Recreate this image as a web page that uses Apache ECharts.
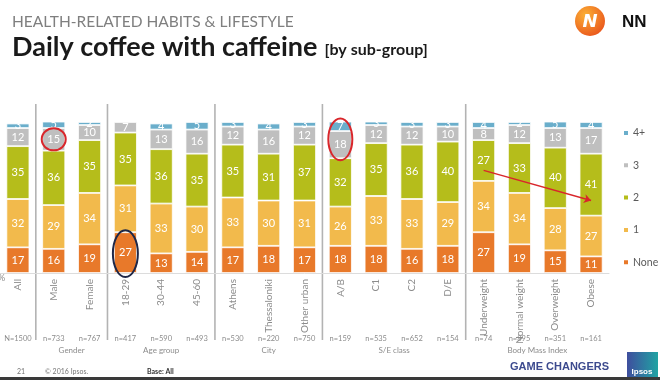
<!DOCTYPE html>
<html><head><meta charset="utf-8">
<script src="https://cdn.jsdelivr.net/npm/echarts@6/dist/echarts.min.js"></script>
<style>html,body{margin:0;padding:0;background:#fff}#c{width:660px;height:380px}</style>
</head><body><div id="c"></div>
<script>
const categories = ['All','Male','Female','18-29','30-44','45-60','Athens','Thessaloniki','Other urban','A/B','C1','C2','D/E','Underweight','Normal weight','Overweight','Obese'];
const noneVals = [17,16,19,27,13,14,17,18,17,18,18,16,18,27,19,15,11];
const oneVals = [32,29,34,31,33,30,33,30,31,26,33,33,29,34,34,28,27];
const twoVals = [35,36,35,35,36,35,35,31,37,32,35,36,40,27,33,40,41];
const threeVals = [12,15,10,7,13,16,12,16,12,18,12,12,10,8,12,13,17];
const fourPlusVals = [3,5,2,1,4,5,3,4,3,7,3,3,3,4,2,5,4];
const nLabels = ['N=1500','n=733','n=767','n=417','n=590','n=493','n=530','n=220','n=750','n=159','n=535','n=652','n=154','n=74','n=895','n=351','n=161'];
const groupNames = ['Gender','Age group','City','S/E class','Body Mass Index'];
const groupStart = [1,3,6,9,13];
const groupEnd = [2,5,8,12,16];
const seriesNames = ['None','1','2','3','4+'];
const seriesColors = ['#E8792A','#F2BA4C','#B5BD1B','#BFBFBF','#6AAECB'];
const seriesData = [noneVals, oneVals, twoVals, threeVals, fourPlusVals];

const chart = echarts.init(document.getElementById('c'), null, {renderer:'canvas'});
const FONT = 'Lato, "Noto Sans", sans-serif';

const series = seriesNames.map((name, i) => ({
  name, type:'bar', stack:'all', data: seriesData[i], barWidth:23,
  itemStyle:{color:seriesColors[i], borderColor:'#ffffff', borderWidth:0.8},
  label:{show:true, position:'inside', color:'#fff', fontSize:11, fontFamily:FONT},
  emphasis:{disabled:true}
}));
series[0].markLine = {
  silent:true, symbol:['none','arrow'], symbolSize:7,
  lineStyle:{color:'#D9262B', width:1.4, type:'solid'},
  label:{show:false},
  data:[[{coord:[13, 68]}, {coord:[16, 48]}]]
};

chart.setOption({
  animation:false,
  grid:{left:-2, right:51, top:122, bottom:107, containLabel:false},
  legend:{
    data:['4+','3','2','1','None'], orient:'vertical', left:622, top:127.5, padding:0,
    itemWidth:6, itemHeight:6, itemGap:21.3, icon:'rect',
    textStyle:{color:'#595959', fontSize:10.5, fontFamily:FONT, padding:[0,0,0,-1]}
  },
  xAxis:[{
    type:'category', data:categories,
    axisLine:{show:true, lineStyle:{color:'#dcdcdc', width:1}},
    axisTick:{show:false},
    axisLabel:{rotate:90, color:'#8c8c8c', fontSize:10, fontFamily:FONT, margin:6, interval:0}
  },{
    type:'category', data:nLabels, position:'bottom', offset:62,
    axisLine:{show:false}, axisTick:{show:false},
    axisLabel:{color:'#8c8c8c', fontSize:7.5, fontFamily:FONT, interval:0, margin:0}
  }],
  yAxis:{type:'value', min:0, max:100, show:false},
  series: series
});

const px = (i, v) => chart.convertToPixel({xAxisIndex:0, yAxisIndex:0}, [i, v]);
const g = [];
groupStart.forEach(s => {
  const x = (px(s-1,0)[0] + px(s,0)[0]) / 2;
  g.push({type:'line', shape:{x1:x, y1:104, x2:x, y2:340}, style:{stroke:'#b3b3b3', lineWidth:1.6}, silent:true});
});
groupNames.forEach((n, k) => {
  const x = (px(groupStart[k],0)[0] + px(groupEnd[k],0)[0]) / 2;
  g.push({type:'text', x:x, y:350, style:{text:n, fill:'#8c8c8c', font:'8px ' + FONT, align:'center', verticalAlign:'middle'}});
});
function stackMid(i, seriesIdx, cnt) {
  let lo = 0; for (let s = 0; s < seriesIdx; s++) lo += seriesData[s][i];
  let hi = lo; for (let s = seriesIdx; s < seriesIdx + cnt; s++) hi += seriesData[s][i];
  const a = px(i, lo), b = px(i, hi);
  return {cx:a[0], cy:(a[1]+b[1])/2, h:Math.abs(a[1]-b[1])};
}
const e1 = stackMid(1, 3, 1);
g.push({type:'ellipse', shape:{cx:e1.cx, cy:e1.cy, rx:12, ry:11}, style:{stroke:'#D9262B', fill:null, lineWidth:2}, z:100});
const e2 = stackMid(9, 3, 2);
g.push({type:'ellipse', shape:{cx:e2.cx, cy:e2.cy, rx:12, ry:e2.h/2+2}, style:{stroke:'#D9262B', fill:null, lineWidth:2}, z:100});
const e3 = stackMid(3, 0, 1);
g.push({type:'ellipse', shape:{cx:e3.cx, cy:e3.cy+1, rx:12.5, ry:e3.h/2+3}, style:{stroke:'#1F2747', fill:null, lineWidth:2}, z:100});
g.push({type:'text', x:-2, y:278, style:{text:'%', fill:'#8c8c8c', font:'9px ' + FONT, verticalAlign:'middle'}});

const meas = document.createElement('canvas').getContext('2d');
const titleFont = 'bold 27px ' + FONT;
meas.font = titleFont;
const titleW = meas.measureText('Daily coffee with caffeine').width;
g.push({type:'text', x:12, y:22, style:{text:'HEALTH-RELATED HABITS & LIFESTYLE', fill:'#7f7f7f', font:'15.5px ' + FONT, verticalAlign:'middle'}});
g.push({type:'text', x:12, y:47, style:{text:'Daily coffee with caffeine', fill:'#1a1a1a', font:titleFont, verticalAlign:'middle'}});
g.push({type:'text', x:12 + titleW + 7, y:50, style:{text:'[by sub-group]', fill:'#1a1a1a', font:'bold 16px ' + FONT, verticalAlign:'middle'}});
g.push({type:'circle', shape:{cx:590, cy:21, r:15}, style:{fill:new echarts.graphic.RadialGradient(0.35,0.3,0.8,[{offset:0,color:'#FBB034'},{offset:1,color:'#E9521B'}])}});
g.push({type:'text', x:590, y:22, style:{text:'N', fill:'#fff', font:'italic bold 18px "DejaVu Sans", sans-serif', align:'center', verticalAlign:'middle'}});
g.push({type:'text', x:622, y:22, style:{text:'NN', fill:'#111', font:'bold 17px "Liberation Sans", sans-serif', verticalAlign:'middle'}});
g.push({type:'text', x:17, y:372, style:{text:'21', fill:'#777', font:'7px ' + FONT, verticalAlign:'middle'}});
g.push({type:'text', x:45, y:372, style:{text:'\u00A9 2016 Ipsos.', fill:'#777', font:'7px ' + FONT, verticalAlign:'middle'}});
g.push({type:'text', x:147, y:372, style:{text:'Base: All', fill:'#333', font:'bold 7px ' + FONT, verticalAlign:'middle'}});
g.push({type:'text', x:510, y:367, style:{text:'GAME CHANGERS', fill:'#3C4A8E', font:'bold 11px "Liberation Sans", sans-serif', verticalAlign:'middle'}});
g.push({type:'rect', shape:{x:627, y:352, width:31, height:26}, style:{fill:new echarts.graphic.LinearGradient(0,0,1,0,[{offset:0,color:'#3F4E9E'},{offset:1,color:'#20A3A3'}])}});
g.push({type:'text', x:642, y:372, style:{text:'Ipsos', fill:'#fff', font:'bold 8px "Liberation Sans", sans-serif', align:'center', verticalAlign:'middle'}});
g.push({type:'rect', shape:{x:0, y:377, width:660, height:3}, style:{fill:'#3a3a3a'}});
chart.setOption({graphic:g});
</script>
</body></html>
